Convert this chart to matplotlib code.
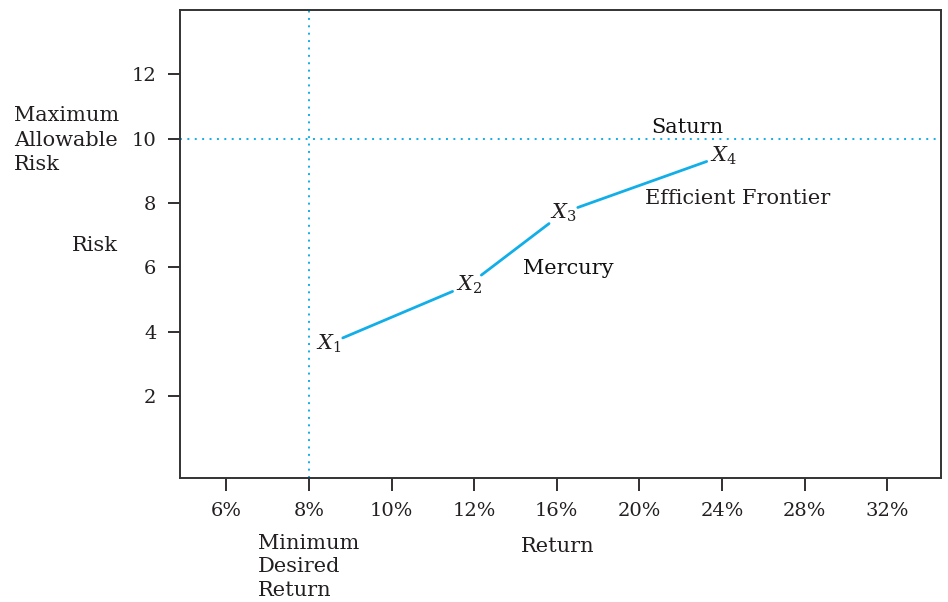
import numpy as np
import matplotlib
matplotlib.use('Agg')
import matplotlib.pyplot as plt

plt.rcParams['font.family'] = ['DejaVu Serif']
plt.rcParams['mathtext.fontset'] = 'dejavuserif'

# x axis is categorical (evenly spaced returns)
returns = ['6%', '8%', '10%', '12%', '16%', '20%', '24%', '28%', '32%']
risk_ticks = [2, 4, 6, 8, 10, 12]

# frontier points, x in category units, y in risk
pt_names = ['$X_1$', '$X_2$', '$X_3$', '$X_4$']
pt_x = [1.24, 2.94, 4.08, 6.02]
pt_y = [3.62, 5.47, 7.7, 9.48]

min_return_pos = 1   # 8%
max_risk = 10

ink = '#231f20'
blue = '#12aee8'

fig = plt.figure(figsize=(9.48, 6.02), dpi=100)
ax = fig.add_axes([180/948, 1-478/602, 761/948, 468/602])

ax.set_xlim(-0.56, 8.65)
ax.set_ylim(-0.55, 14.0)

ax.axvline(min_return_pos, color=blue, ls=(0, (1, 2.8)), lw=1.4)
ax.axhline(max_risk, color=blue, ls=(0, (1, 2.8)), lw=1.4)

# segments between labels, with gaps left for the X_n text
for i in range(len(pt_x)-1):
    ax.annotate('', xy=(pt_x[i+1], pt_y[i+1]), xytext=(pt_x[i], pt_y[i]),
                arrowprops=dict(arrowstyle='-', color=blue, lw=2,
                                shrinkA=11, shrinkB=13))
for n, x, y in zip(pt_names, pt_x, pt_y):
    ax.text(x, y, n, fontsize=15, color=ink, ha='center', va='center')

ax.set_xticks(range(len(returns)))
ax.set_xticklabels(returns)
ax.set_yticks(risk_ticks)
ax.tick_params(direction='out', length=9, width=1.3, colors=ink,
               labelsize=14, pad=8)
for s in ax.spines.values():
    s.set_color('#333333')
    s.set_linewidth(1.4)

ax.text(0.667, 0.748, 'Saturn', transform=ax.transAxes, fontsize=15,
        color='#111111', ha='center', va='center')
ax.text(0.51, 0.447, 'Mercury', transform=ax.transAxes, fontsize=15,
        color='#111111', ha='center', va='center')
ax.text(0.733, 0.597, 'Efficient Frontier', transform=ax.transAxes,
        fontsize=15, color=ink, ha='center', va='center')

fig.text(14/948, 1-140/602, 'Maximum\nAllowable\nRisk', fontsize=15,
         color=ink, ha='left', va='center', linespacing=1.35)
fig.text(118/948, 1-245/602, 'Risk', fontsize=15, color=ink,
         ha='right', va='center')
fig.text(258/948, 1-567/602, 'Minimum\nDesired\nReturn', fontsize=15,
         color=ink, ha='left', va='center', linespacing=1.32)
fig.text(558/948, 1-546/602, 'Return', fontsize=15, color=ink,
         ha='center', va='center')

fig.savefig('out.png', dpi=100)
